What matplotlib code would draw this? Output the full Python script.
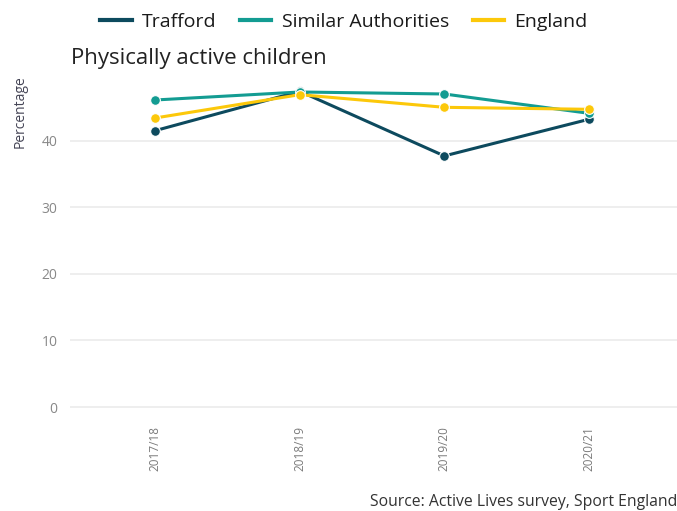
import matplotlib
matplotlib.use("Agg")
import matplotlib.pyplot as plt
from matplotlib.lines import Line2D

plt.rcParams['font.family'] = ['Open Sans', 'DejaVu Sans']

periods = ["2017/18", "2018/19", "2019/20", "2020/21"]
trafford = [41.5, 47.4, 37.7, 43.2]
similar = [46.1, 47.3, 47.0, 44.1]
england = [43.4, 46.9, 45.0, 44.7]

series = [
    ("Trafford", trafford, "#0d4a5e"),
    ("Similar Authorities", similar, "#139c92"),
    ("England", england, "#fcc80a"),
]

W, H = 677, 511
fig = plt.figure(figsize=(W / 100, H / 100), dpi=100)
left, right, bottom, top = 70, 677, 409, 84
ax = fig.add_axes([left / W, 1 - bottom / H, (right - left) / W, (bottom - top) / H])

x = list(range(len(periods)))
for name, vals, color in series:
    ax.plot(x, vals, color=color, lw=2.2, marker="o", ms=7,
            markeredgecolor="white", markeredgewidth=0.8, zorder=3, label=name)

ax.set_xlim(-0.59, 3.61)
ax.set_ylim(-0.3, 48.5)
ax.set_yticks([0, 10, 20, 30, 40])
ax.set_xticks(x)
ax.set_xticklabels(periods, rotation=90, color="#7a7a7a", fontsize=8.5)
ax.tick_params(axis="y", colors="#888888", labelsize=10, length=0, pad=9)
ax.tick_params(axis="x", length=0, pad=12)
ax.grid(axis="y", color="#ebebeb", lw=1.2)
ax.set_axisbelow(True)
for s in ax.spines.values():
    s.set_visible(False)

fig.text(20 / W, 1 - 112 / H, "Percentage", fontsize=10, color="#444455",
         rotation=90, ha="center", va="center")

fig.text(71 / W, 1 - 64 / H, "Physically active children", fontsize=16,
         color="#222222", va="baseline", ha="left")

handles = [Line2D([0], [0], color=c, lw=3) for _, _, c in series]
fig.legend(handles, [n for n, _, _ in series], loc="center",
           bbox_to_anchor=(344 / W, 1 - 22 / H), ncol=3, frameon=False,
           handlelength=1.6, handletextpad=0.55, columnspacing=1.2,
           labelcolor="#1a1a1a", prop={"size": 14})

fig.text(677 / W, 1 - 502 / H, "Source: Active Lives survey, Sport England",
         fontsize=11.3, color="#333333", ha="right", va="center")

fig.savefig("out.png", dpi=100, facecolor="white")
